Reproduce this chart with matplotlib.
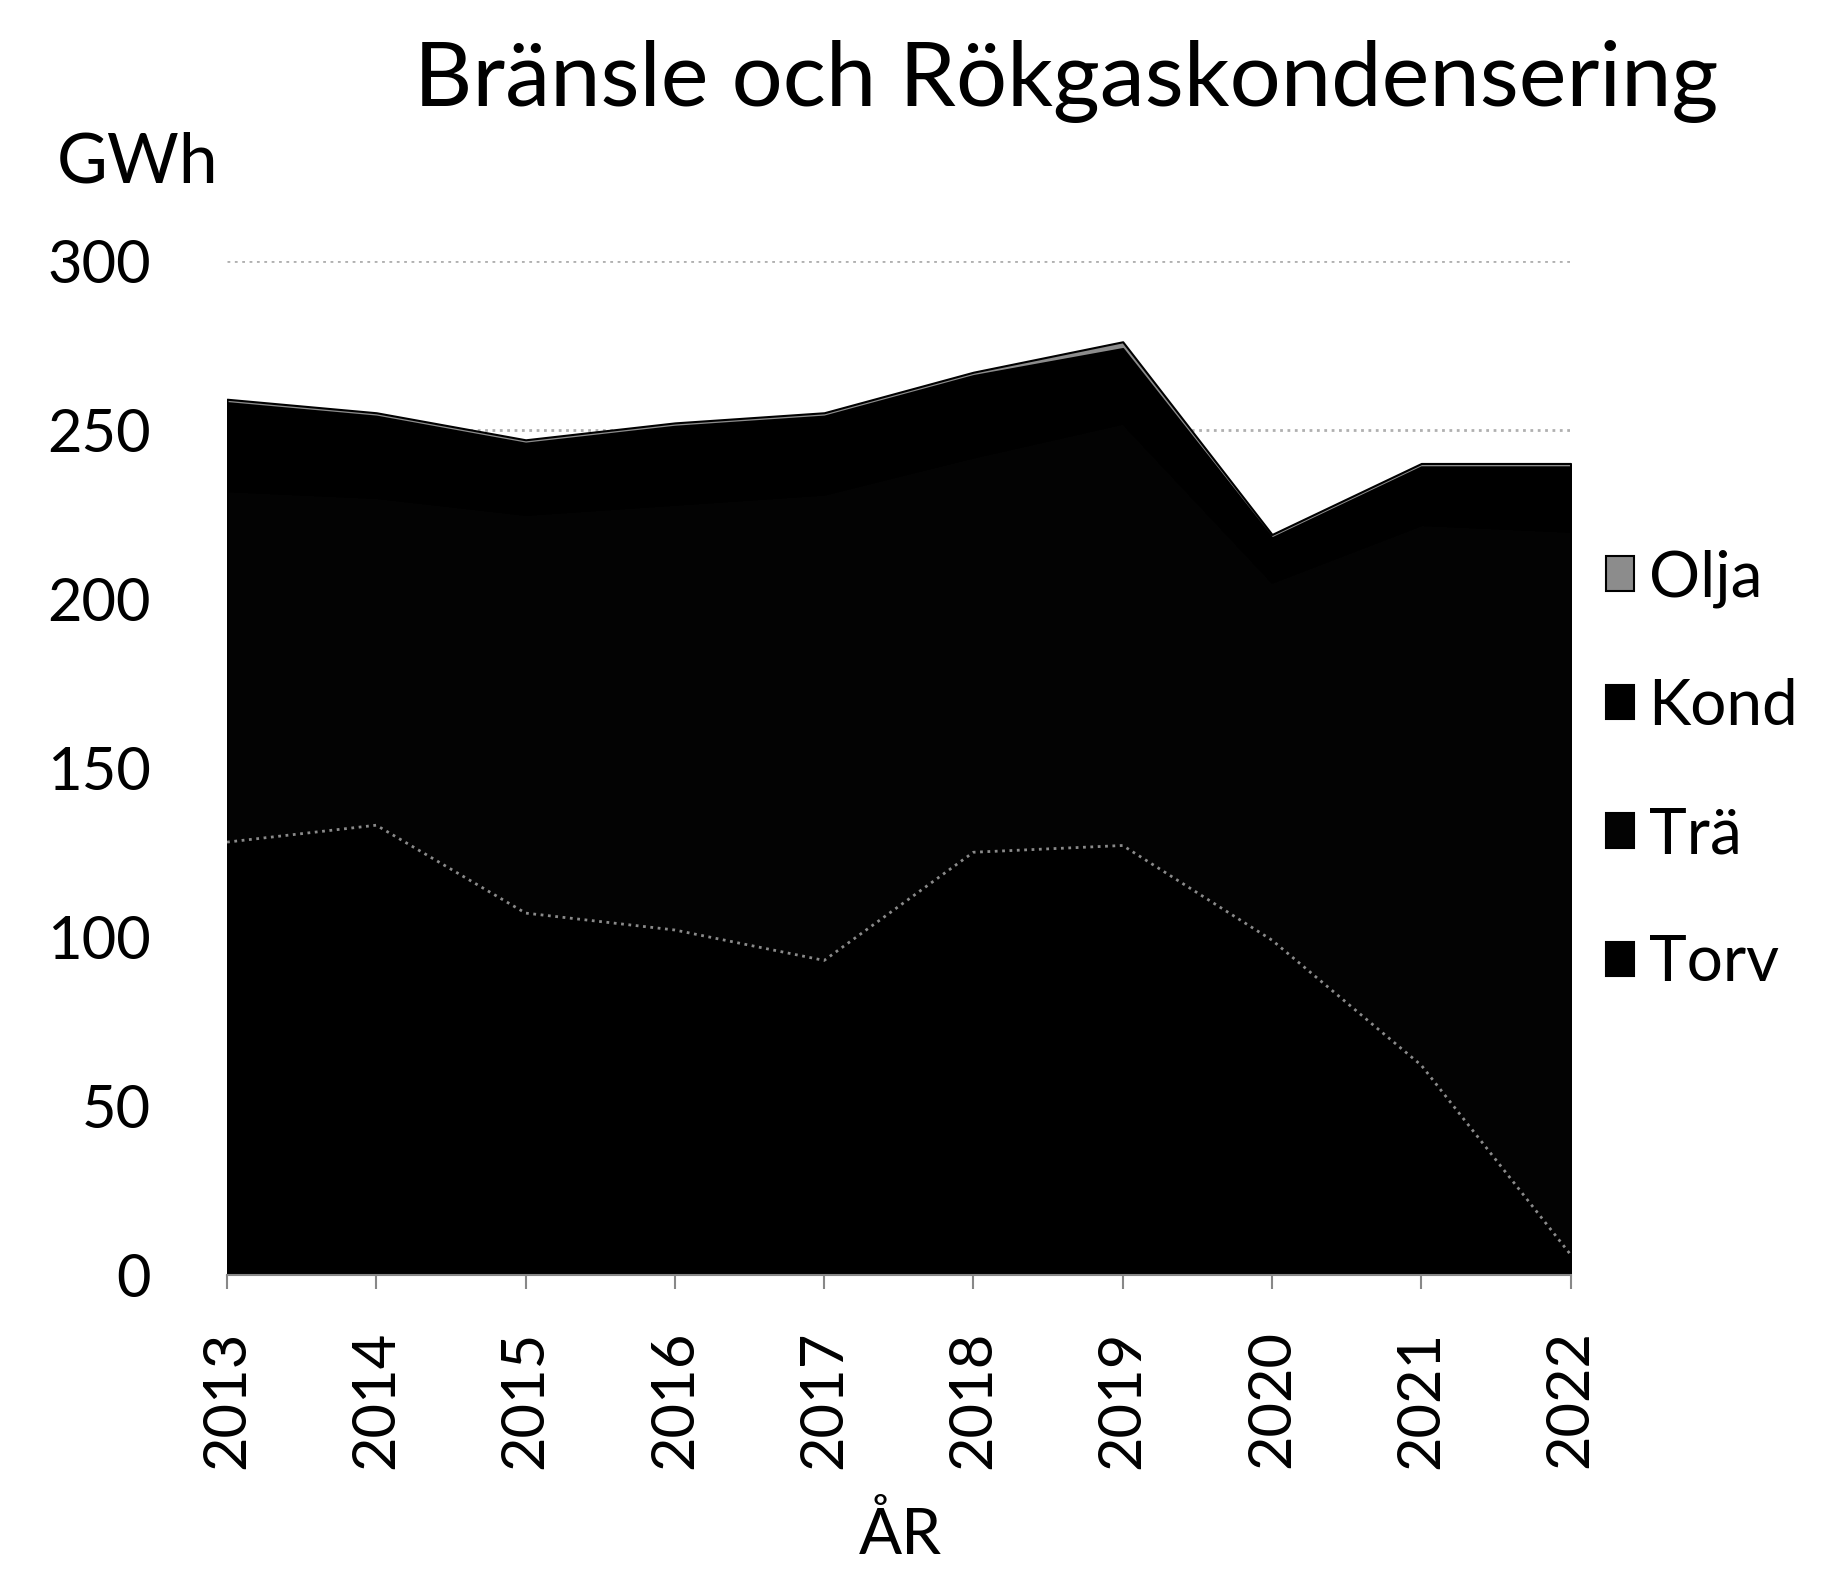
import matplotlib
matplotlib.use('Agg')
import matplotlib.pyplot as plt

plt.rcParams['font.family'] = ['Lato', 'DejaVu Sans']

years = [2013, 2014, 2015, 2016, 2017, 2018, 2019, 2020, 2021, 2022]
torv = [128, 133, 107, 102, 93, 125, 127, 99, 62, 6]
tra = [104, 97, 118, 126, 138, 117, 125, 106, 160, 214]
kond = [26, 24, 21, 23, 23, 24, 22, 13, 17, 19]
olja = [1, 1, 1, 1, 1, 1, 2, 1, 1, 1]

labels = ['Torv', 'Trä', 'Kond', 'Olja']
colors = ['#000000', '#030303', '#000000', '#8c8c8c']

fig = plt.figure(figsize=(18.22, 15.70), dpi=100)
ax = fig.add_axes([0.1246, 0.188, 0.7374, 0.646])

ax.set_axisbelow(True)
ax.yaxis.grid(True, color='#b0b0b0', linestyle=':', linewidth=2)
polys = ax.stackplot(years, torv, tra, kond, olja, labels=labels, colors=colors,
                     edgecolor='none')

# faint boundary between Torv and Trä
ax.plot(years, torv, color='#8a8a8a', linestyle=':', linewidth=2)

ax.set_xlim(2013, 2022)
ax.set_ylim(0, 300)
ax.set_yticks(range(0, 301, 50))
ax.set_xticks(years)
ax.set_xticklabels([str(y) for y in years], rotation=90)
ax.tick_params(axis='y', length=0, pad=55, labelsize=43)
ax.tick_params(axis='x', length=10, width=1.5, color='#888888', pad=30, labelsize=43)

for s in ['top', 'right', 'left']:
    ax.spines[s].set_visible(False)
ax.spines['bottom'].set_color('#888888')
ax.spines['bottom'].set_linewidth(1.5)

handles, labs = ax.get_legend_handles_labels()
for h in handles:
    h.set_edgecolor('#000000')
    h.set_linewidth(1.5)
leg = ax.legend(handles[::-1], labs[::-1], loc='center left', bbox_to_anchor=(1.0, 0.497),
                frameon=False, fontsize=46, handlelength=0.45, handleheight=0.45,
                handletextpad=0.22, labelspacing=1.1, borderaxespad=0.15)

fig.text(0.585, 0.948, 'Bränsle och Rökgaskondensering', ha='center', va='center', fontsize=65)
fig.text(0.031, 0.896, 'GWh', ha='left', va='center', fontsize=50)
fig.text(0.494, 0.022, 'ÅR', ha='center', va='center', fontsize=46)

fig.savefig('out.png', dpi=100)
